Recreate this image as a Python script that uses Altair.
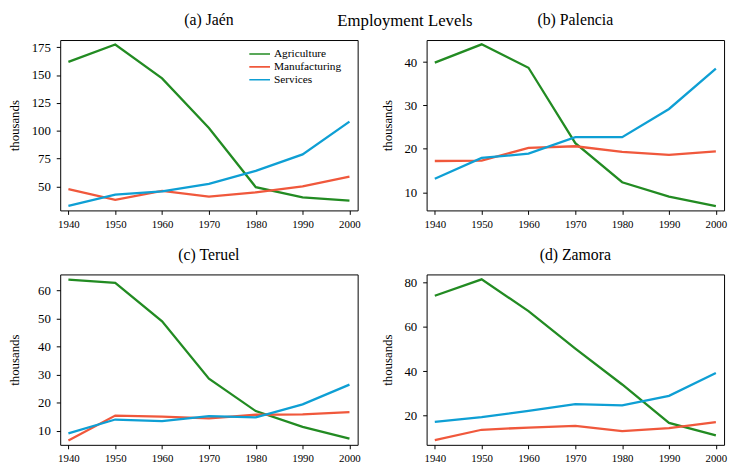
import altair as alt
import pandas as pd

years = [1940, 1950, 1960, 1970, 1980, 1990, 2000]
sectors = ["Agriculture", "Manufacturing", "Services"]
colors = ["#228b22", "#f0583c", "#0e9fd4"]

jaen_agri = [161.8, 177.4, 147.0, 102.5, 49.4, 40.3, 37.3]
jaen_manu = [47.6, 38.0, 46.0, 40.8, 44.8, 50.0, 58.8]
jaen_serv = [32.6, 42.6, 45.5, 52.3, 64.0, 78.8, 108.2]

palencia_agri = [39.9, 44.1, 38.7, 21.3, 12.3, 9.0, 6.8]
palencia_manu = [17.2, 17.3, 20.2, 20.6, 19.3, 18.6, 19.4]
palencia_serv = [13.1, 17.9, 18.9, 22.7, 22.7, 29.2, 38.5]

teruel_agri = [63.9, 62.7, 49.0, 28.6, 17.1, 11.5, 7.3]
teruel_manu = [6.6, 15.5, 15.1, 14.5, 15.8, 15.9, 16.7]
teruel_serv = [9.2, 14.1, 13.5, 15.3, 14.9, 19.5, 26.5]

zamora_agri = [74.1, 81.5, 67.2, 50.3, 34.1, 16.8, 11.2]
zamora_manu = [9.0, 13.7, 14.7, 15.4, 13.1, 14.4, 17.1]
zamora_serv = [17.2, 19.4, 22.2, 25.3, 24.7, 29.0, 39.3]

jaen_ticks = [50, 75, 100, 125, 150, 175]
palencia_ticks = [10, 20, 30, 40]
teruel_ticks = [10, 20, 30, 40, 50, 60]
zamora_ticks = [20, 40, 60, 80]

FONT = "Liberation Serif"


def make_df(agri, manu, serv):
    rows = []
    for s, vals in zip(sectors, [agri, manu, serv]):
        for y, v in zip(years, vals):
            rows.append({"year": y, "sector": s, "value": v})
    return pd.DataFrame(rows)


def panel(title, df, domain, ticks, extent, legend=None):
    color = alt.Color(
        "sector:N",
        scale=alt.Scale(domain=sectors, range=colors),
        legend=legend,
    )
    return (
        alt.Chart(
            df,
            title=alt.TitleParams(
                title, font=FONT, fontSize=16, fontWeight="normal",
                color="black", anchor="middle", frame="group", offset=12,
            ),
        )
        .mark_line(strokeWidth=2.3)
        .encode(
            x=alt.X(
                "year:Q",
                scale=alt.Scale(domain=[1938.25, 2001.75], nice=False, zero=False),
                axis=alt.Axis(values=years, format="d", title=None),
            ),
            y=alt.Y(
                "value:Q",
                scale=alt.Scale(domain=domain, nice=False, zero=False),
                axis=alt.Axis(values=ticks, title="thousands",
                              minExtent=extent, maxExtent=extent),
            ),
            color=color,
            order=alt.Order("year:Q"),
        )
        .properties(width=302, height=173)
    )


legend = alt.Legend(
    title=None, orient="none", legendX=191, legendY=8,
    symbolType="stroke", symbolSize=441, symbolStrokeWidth=1.6,
    labelFont=FONT, labelFontSize=11.5, labelColor="black",
    labelOffset=3, rowPadding=0, padding=0, clipHeight=12.5,
)

a = panel("(a) Jaén", make_df(jaen_agri, jaen_manu, jaen_serv),
          [28.5, 181.4], jaen_ticks, 30, legend)
b = panel("(b) Palencia", make_df(palencia_agri, palencia_manu, palencia_serv),
          [5.8, 45.1], palencia_ticks, 24)
c = panel("(c) Teruel", make_df(teruel_agri, teruel_manu, teruel_serv),
          [5.1, 65.7], teruel_ticks, 30)
d = panel("(d) Zamora", make_df(zamora_agri, zamora_manu, zamora_serv),
          [6.9, 83.7], zamora_ticks, 24)

chart = (
    alt.vconcat(
        alt.hconcat(a, b, spacing=19),
        alt.hconcat(c, d, spacing=19),
        spacing=16,
    )
    .properties(
        padding=0,
        title=alt.TitleParams(
            "Employment Levels", font=FONT, fontSize=17, fontWeight="normal",
            color="black", anchor="middle", frame="group", offset=-18, dx=350,
        ),
    )
    .configure_view(stroke="black", strokeWidth=1)
    .configure_axis(
        domain=False, grid=False, tickColor="black", tickSize=4,
        labelFont=FONT, labelColor="black", titleFont=FONT,
        titleColor="black", titleFontWeight="normal",
    )
    .configure_axisX(labelFontSize=11, labelPadding=4)
    .configure_axisY(labelFontSize=13, labelPadding=6,
                     titleFontSize=13, titlePadding=9)
)

chart.save("out.html", embed_options={"renderer": "svg", "actions": False})
